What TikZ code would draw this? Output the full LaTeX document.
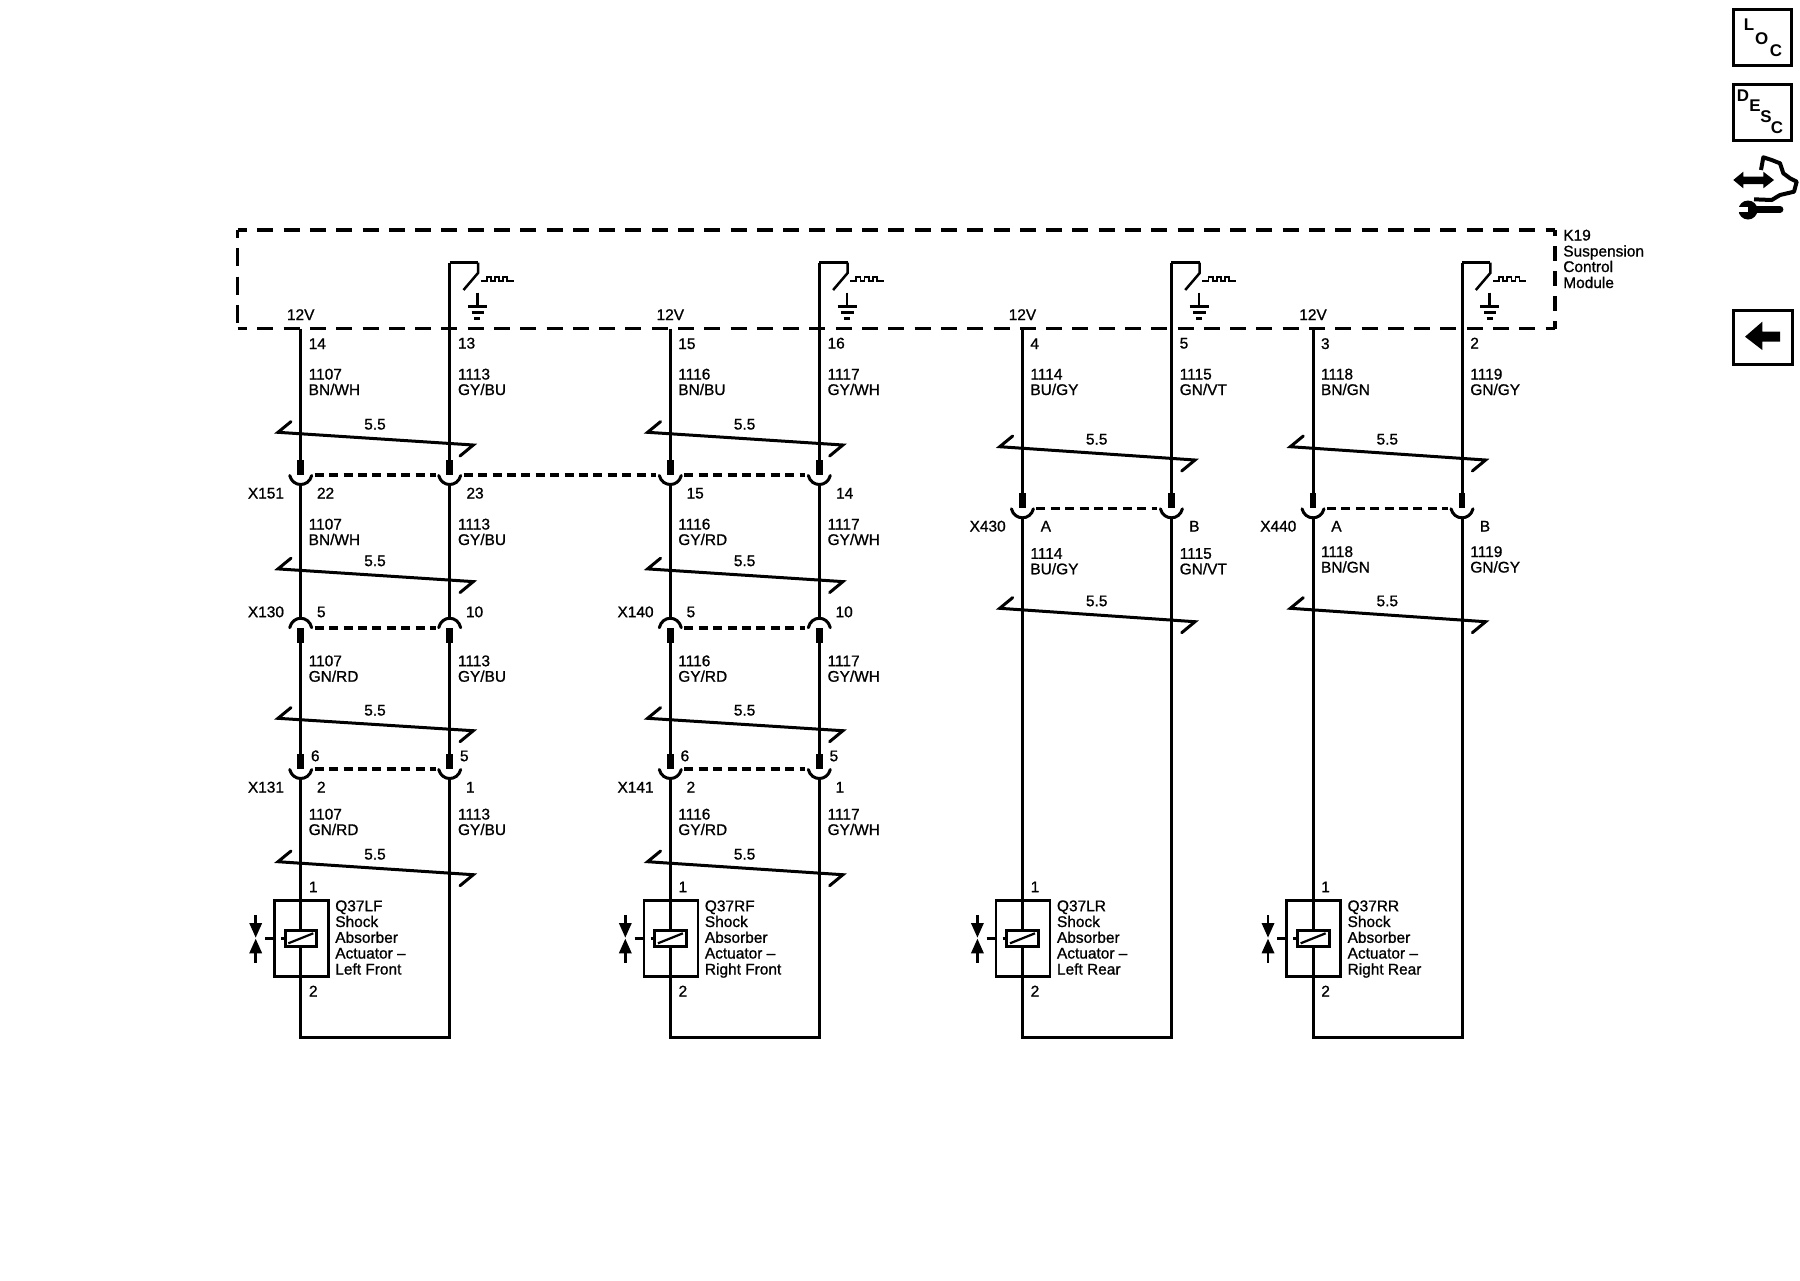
\documentclass[tikz,border=0pt]{standalone}
\usepackage{fontspec}
\setmainfont{Liberation Sans}
\newfontfamily\wf{Liberation Sans}[FakeBold=1]
\newcount\nn
\tikzset{
  lab/.style={inner sep=0pt,outer sep=0pt,anchor=base west,yshift=-5.5bp,font=\fontsize{15.5}{16}\selectfont\wf},
  labe/.style={lab,anchor=base east},
  labc/.style={lab,anchor=base},
  wire/.style={line width=3bp,line join=miter},
  thin wire/.style={line width=2.5bp,line join=miter},
  tick/.style={line width=3bp,line join=miter,line cap=round},
  link/.style={line width=3.3bp,dash pattern=on 9bp off 5.4bp},
  block/.style={line width=6.8bp},
  rim/.style={line width=3bp,line cap=round},
  frame/.style={line width=3.3bp},
  iconbox/.style={draw,line width=3bp,inner sep=0pt,outer sep=0pt,anchor=north west},
  iconl/.style={inner sep=0pt,outer sep=0pt,font=\fontsize{17}{17}\selectfont\bfseries},
}
\newcommand\tl[3]{\global\advance\nn by 1\relax\node[lab] (t\the\nn) at (#1,#2) {#3};}
\newcommand\tr[3]{\global\advance\nn by 1\relax\node[labe] (t\the\nn) at (#1,#2) {#3};}
\newcommand\tc[3]{\global\advance\nn by 1\relax\node[labc] (t\the\nn) at (#1,#2) {#3};}
% two wire labels
\newcommand\Pair[5]{\tl{308.7}{#1}{#2}\tl{308.7}{#1+15.5}{#3}\tl{458}{#1}{#4}\tl{458}{#1+15.5}{#5}}
% cable marker: y of left end, slope
\newcommand\Tick[3]{%
  \global\advance\nn by 1\relax
  \coordinate (k\the\nn a) at (278,#1);
  \coordinate (k\the\nn b) at (473.3,#1+#2);
  \coordinate (k\the\nn c) at (291,#1-10.7);
  \coordinate (k\the\nn d) at (460,#1+#2+11);
  \draw[tick] (k\the\nn c) -- (k\the\nn a) -- (k\the\nn b) -- (k\the\nn d);
  \tc{375}{#3}{5.5}}
% cup (opens upward) below a pin block: #1 name, #2 x, #3 block top
\newcommand\Cup[3]{%
  \coordinate (#1-in) at (#2,#3);
  \coordinate (#1-rim) at (#2,#3+15);
  \coordinate (#1-out) at (#2,#3+25.5);
  \draw[block] (#1-in) -- (#1-rim);
  \draw[rim] (#2-11,#3+15.5) .. controls (#2-8,#3+27.5) and (#2+8,#3+27.5) .. (#2+11,#3+15.5);}
% arch (opens downward) above a pin block: #1 name, #2 x, #3 arch top
\newcommand\Arch[3]{%
  \coordinate (#1-in) at (#2,#3);
  \coordinate (#1-rim) at (#2,#3+11.3);
  \coordinate (#1-out) at (#2,#3+26);
  \draw[block] (#1-rim) -- (#1-out);
  \draw[rim] (#2-11,#3+11) .. controls (#2-8,#3-1.6) and (#2+8,#3-1.6) .. (#2+11,#3+11);}
\newcommand\Link[2]{\draw[link] ([xshift=14bp]#1-rim) -- ([xshift=-14bp]#2-rim);}
% module top: #1 left pin #2 right pin
\newcommand\Top[2]{%
  \tl{287}{314.5}{12V}
  \coordinate (\cp Lt) at (300.7,328.7);
  \coordinate (\cp Rt) at (449.7,262.7);
  \coordinate (\cp Sa) at (478,262.7);
  \coordinate (\cp Sb) at (478,273);
  \coordinate (\cp Sc) at (463.5,290);
  \coordinate (\cp Ga) at (477.3,292.7);
  \coordinate (\cp Gb) at (477.3,306.7);
  \draw[thin wire] (\cp Sa) -- (\cp Sb) -- (\cp Sc);
  \draw[line width=1.7bp] (480.7,281) -- (486.7,281) -- (486.7,276.7) -- (491,276.7) -- (491,281) -- (495,281) -- (495,276.7) -- (499.3,276.7) -- (499.3,281) -- (503.3,281) -- (503.3,276.7) -- (507.3,276.7) -- (507.3,281) -- (514,281);
  \draw[line width=2.6bp] (\cp Ga) -- (\cp Gb);
  \draw[line width=2.6bp] (468,306.7) -- (487,306.7);
  \draw[line width=2.6bp] (471.7,312.7) -- (484,312.7);
  \draw[line width=2.6bp] (474.3,318.7) -- (480.3,318.7);
  \tl{308.7}{343.5}{#1}
  \tl{458}{343}{#2}}
% module bottom: #1,#2 start coordinates; #3 name, #4 line 4, #5 line 5
\newcommand\Bottom[5]{%
  \coordinate (\cp Bl) at (300.7,1037.3);
  \coordinate (\cp Br) at (449.7,1037.3);
  \draw[wire] (#1) -- (\cp Bl) -- (\cp Br) -- (#2);
  \node[draw,line width=2.8bp,inner sep=0pt,outer sep=0pt,minimum width=54bp,minimum height=76bp] (\cp Act) at (301.3,938.3) {};
  \draw[line width=2.8bp] (265,938.7) -- (\cp Act.west |- 265,938.7);
  \draw[line width=2.8bp] (281,938.7) -- (285,938.7);
  \node[draw,fill=white,line width=3bp,inner sep=0pt,outer sep=0pt,minimum width=31.7bp,minimum height=16.7bp] (\cp Sol) at (300.85,938.35) {};
  \draw[line width=2.2bp] (288.3,943.3) -- (313.3,933.3);
  \draw[line width=2.8bp] (255.7,915) -- (255.7,925);
  \fill (249.2,923) -- (262.2,923) -- (255.7,937.5) -- cycle;
  \draw[line width=2.8bp] (255.7,951) -- (255.7,962.7);
  \fill (249.2,953.3) -- (262.2,953.3) -- (255.7,938.8) -- cycle;
  \tl{309}{886.7}{1}
  \tl{309}{991}{2}
  \tl{335.3}{905.7}{#3}
  \tl{335.3}{921.5}{Shock}
  \tl{335.3}{937.3}{Absorber}
  \tl{335.3}{953}{#4}
  \tl{335.3}{969}{#5}}
% front axle layout
\newcommand\Front[1]{%
  \Cup{\cp La}{300.7}{460}\Cup{\cp Ra}{449.7}{460}
  \Arch{\cp Lb}{300.7}{616.7}\Arch{\cp Rb}{449.7}{616.7}
  \Cup{\cp Lc}{300.7}{754}\Cup{\cp Rc}{449.7}{754}
  \draw[wire] (\cp Lt) -- (\cp La-in);
  \draw[wire] (\cp Rt) -- (\cp Ra-in);
  \draw[thin wire] (\cp Rt) -- (\cp Sa);
  \draw[wire] (\cp La-out) -- (\cp Lb-in);
  \draw[wire] (\cp Ra-out) -- (\cp Rb-in);
  \draw[wire] (\cp Lb-out) -- (\cp Lc-in);
  \draw[wire] (\cp Rb-out) -- (\cp Rc-in);
  \Link{\cp Lb}{\cp Rb}
  \Link{\cp Lc}{\cp Rc}
  \Link{\cp La}{\cp Ra}
  \Tick{432.3}{12.7}{424}
  \Tick{568.9}{12.7}{560.6}
  \Tick{718.3}{12.4}{710}
  \Tick{861.7}{13}{854}}
% rear axle layout
\newcommand\Rear{%
  \Cup{\cp La}{300.7}{493.3}\Cup{\cp Ra}{449.7}{493.3}
  \draw[wire] (\cp Lt) -- (\cp La-in);
  \draw[wire] (\cp Rt) -- (\cp Ra-in);
  \draw[thin wire] (\cp Rt) -- (\cp Sa);
  \Link{\cp La}{\cp Ra}
  \Tick{446.7}{13.3}{439}
  \Tick{608.3}{13.4}{600.7}}
\begin{document}
\begin{tikzpicture}[x=1bp,y=-1bp]
\useasboundingbox (0,0) rectangle (1800,1280);
% K19 module frame
\coordinate (fa) at (237.7,230);
\coordinate (fb) at (1555,230);
\coordinate (fc) at (1555,328.5);
\coordinate (fd) at (237.7,328.5);
\draw[frame,dash pattern=on 16bp off 10.29bp,dash phase=6.6bp] (fa) -- (fb);
\draw[frame,dash pattern=on 16bp off 10.29bp,dash phase=6.6bp] (fd) -- (fc);
\draw[frame,dash pattern=on 18bp off 10.3bp,dash phase=10bp] (fa) -- (fd);
\draw[frame,dash pattern=on 14.5bp off 10.5bp,dash phase=9bp] (fb) -- (fc);
\tl{1563.3}{235}{K19}
\tl{1563.3}{251}{Suspension}
\tl{1563.3}{266.5}{Control}
\tl{1563.3}{282.5}{Module}
% column 1
\begin{scope}
\def\cp{a}
\Top{14}{13}
\Front{1}
\Pair{374}{1107}{BN/WH}{1113}{GY/BU}
\tr{284}{493}{X151}\tl{317}{493}{22}\tl{466.5}{493}{23}
\Pair{524}{1107}{BN/WH}{1113}{GY/BU}
\tr{284}{611.7}{X130}\tl{317}{611.7}{5}\tl{466}{611.7}{10}
\Pair{660.7}{1107}{GN/RD}{1113}{GY/BU}
\tl{311}{755.7}{6}\tl{460}{755.7}{5}
\tr{284}{787}{X131}\tl{317}{787}{2}\tl{466}{787}{1}
\Pair{814}{1107}{GN/RD}{1113}{GY/BU}
\Bottom{aLc-out}{aRc-out}{Q37LF}{Actuator –}{Left Front}
\end{scope}
% column 2
\begin{scope}[xshift=369.6bp]
\def\cp{b}
\Top{15}{16}
\Front{2}
\Pair{374}{1116}{BN/BU}{1117}{GY/WH}
\tl{317}{493}{15}\tl{466.5}{493}{14}
\Pair{524}{1116}{GY/RD}{1117}{GY/WH}
\tr{284}{611.7}{X140}\tl{317}{611.7}{5}\tl{466}{611.7}{10}
\Pair{660.7}{1116}{GY/RD}{1117}{GY/WH}
\tl{311}{755.7}{6}\tl{460}{755.7}{5}
\tr{284}{787}{X141}\tl{317}{787}{2}\tl{466}{787}{1}
\Pair{814}{1116}{GY/RD}{1117}{GY/WH}
\Bottom{bLc-out}{bRc-out}{Q37RF}{Actuator –}{Right Front}
\end{scope}
% X151 link between the two front columns
\draw[link] ([xshift=14bp]aRa-rim) -- ([xshift=-14bp]bLa-rim);
% column 3
\begin{scope}[xshift=721.7bp]
\def\cp{c}
\Top{4}{5}
\Rear
\Pair{374}{1114}{BU/GY}{1115}{GN/VT}
\tr{284}{526}{X430}\tl{319}{526}{A}\tl{467.5}{526}{B}
\Pair{553.3}{1114}{BU/GY}{1115}{GN/VT}
\Bottom{cLa-out}{cRa-out}{Q37LR}{Actuator –}{Left Rear}
\end{scope}
% column 4
\begin{scope}[xshift=1012.3bp]
\def\cp{d}
\Top{3}{2}
\Rear
\Pair{374}{1118}{BN/GN}{1119}{GN/GY}
\tr{284}{526}{X440}\tl{319}{526}{A}\tl{467.5}{526}{B}
\Pair{551.5}{1118}{BN/GN}{1119}{GN/GY}
\Bottom{dLa-out}{dRa-out}{Q37RR}{Actuator –}{Right Rear}
\end{scope}
% side icons
\node[iconbox,minimum width=58bp,minimum height=55.5bp] (loc) at (1733.5,9.5) {};
\node[iconl] (locl) at (1749,25) {L};
\node[iconl] (loco) at (1761.7,39) {O};
\node[iconl] (locc) at (1776,50.7) {C};
\node[iconbox,minimum width=58bp,minimum height=55.5bp] (desc) at (1733.5,84.5) {};
\node[iconl] (descd) at (1743,96) {D};
\node[iconl] (desce) at (1755,106) {E};
\node[iconl] (descs) at (1766,117) {S};
\node[iconl] (descc) at (1777,128) {C};
\node[iconbox,minimum width=58.5bp,minimum height=54bp] (ret) at (1733.5,310) {};
\fill (1745,336.7) -- (1762.3,321.7) -- (1762.3,331.7) -- (1780,331.7) -- (1780,341.7) -- (1762.3,341.7) -- (1762.3,350) -- cycle;
% service icon
\fill (1733.3,180) -- (1743.3,171.7) -- (1743.3,176.7) -- (1763.3,176.7) -- (1763.3,171.7) -- (1774,180) -- (1763.3,188.3) -- (1763.3,184) -- (1743.3,184) -- (1743.3,188.3) -- cycle;
\draw[line width=4bp,line join=round] (1761,170) -- (1763.3,157.3) -- (1771.7,160) -- (1780,163.3) -- (1783.3,173.3) -- (1790,178.3) -- (1796.7,181.7) -- (1794,191.7) -- (1780,195) -- (1771.7,200) -- (1754,199.3);
\draw[line width=6.8bp,line cap=round] (1750,209.4) -- (1780,209.4);
\fill (1748,210) circle (9.5);
\fill[white] (1737,206.5) rectangle (1748,211.5);
\end{tikzpicture}
\end{document}
